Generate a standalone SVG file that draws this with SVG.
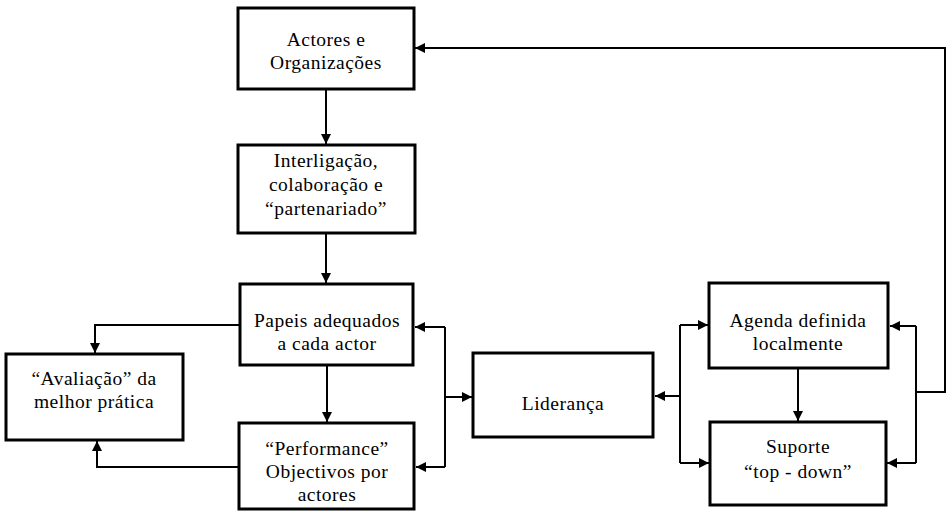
<svg xmlns="http://www.w3.org/2000/svg" width="952" height="512" viewBox="0 0 952 512">
<defs>
<marker id="ah" viewBox="0 0 10 10" refX="10" refY="5" markerWidth="11" markerHeight="10" orient="auto" markerUnits="userSpaceOnUse">
<path d="M0,0 L10,5 L0,10 z" fill="#000"/>
</marker>
</defs>
<style>
.box{fill:#fff;stroke:#000;stroke-width:3}
.t{font-family:"Liberation Serif","Times New Roman",serif;font-size:19.5px;letter-spacing:0.5px;text-anchor:middle;fill:#000}
.c{fill:none;stroke:#000;stroke-width:2}
.ca{fill:none;stroke:#000;stroke-width:2;marker-end:url(#ah)}
</style>
<rect width="952" height="512" fill="#fff"/>
<g id="connectors">
<path class="ca" d="M326,90 L326,144"/>
<path class="ca" d="M326,233 L326,283"/>
<path class="ca" d="M240,325 L95,325 L95,353"/>
<path class="ca" d="M327,366 L327,422"/>
<path class="ca" d="M239,467 L97,467 L97,441"/>
<path class="c" d="M445,327 L445,467"/>
<path class="ca" d="M445,327 L415,327"/>
<path class="ca" d="M445,467 L416,467"/>
<path class="ca" d="M445,397 L472,397"/>
<path class="c" d="M680,325 L680,463"/>
<path class="ca" d="M680,396 L655,396"/>
<path class="ca" d="M680,325 L708,325"/>
<path class="ca" d="M680,463 L709,463"/>
<path class="ca" d="M798,369 L798,421"/>
<path class="c" d="M916,326 L916,463"/>
<path class="ca" d="M916,326 L890,326"/>
<path class="ca" d="M916,463 L887,463"/>
<path class="ca" d="M916,392 L945,392 L945,48 L415,48"/>
</g>
<g id="n1"><rect class="box" x="238" y="8" width="176" height="81"/><text class="t" x="326" y="46">Actores e</text><text class="t" x="326" y="69">Organizações</text></g>
<g id="n2"><rect class="box" x="238" y="145" width="177" height="88"/><text class="t" x="326" y="167">Interligação,</text><text class="t" x="326" y="191">colaboração e</text><text class="t" x="326" y="215">“partenariado”</text></g>
<g id="n3"><rect class="box" x="240" y="284" width="173" height="81"/><text class="t" x="327" y="327">Papeis adequados</text><text class="t" x="327" y="350">a cada actor</text></g>
<g id="n4"><rect class="box" x="239" y="423" width="175" height="86"/><text class="t" x="327" y="455">“Performance”</text><text class="t" x="327" y="478">Objectivos por</text><text class="t" x="327" y="501">actores</text></g>
<g id="n5"><rect class="box" x="6" y="354" width="177" height="86"/><text class="t" x="94" y="385">“Avaliação” da</text><text class="t" x="94" y="408">melhor prática</text></g>
<g id="n6"><rect class="box" x="473" y="353" width="180" height="84"/><text class="t" x="563" y="410">Liderança</text></g>
<g id="n7"><rect class="box" x="709" y="283" width="179" height="85"/><text class="t" x="798" y="327">Agenda definida</text><text class="t" x="798" y="350">localmente</text></g>
<g id="n8"><rect class="box" x="710" y="422" width="176" height="83"/><text class="t" x="798" y="453">Suporte</text><text class="t" x="798" y="478">“top - down”</text></g>
</svg>
